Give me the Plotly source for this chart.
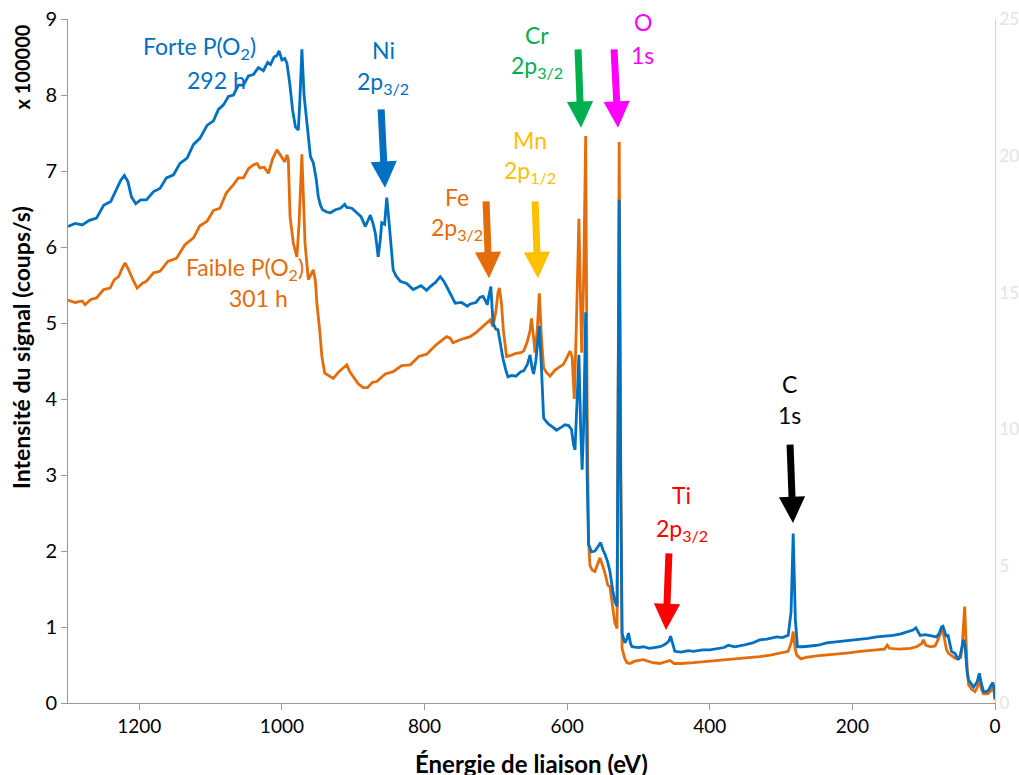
import plotly.graph_objects as go

# ---------------- data ----------------
energy_forte = [1300, 1290, 1280, 1270, 1260, 1250, 1240, 1232, 1226, 1221, 1216, 1211, 1205, 1198, 1190,
                1180, 1171, 1162, 1152, 1143, 1133, 1124, 1115, 1105, 1096, 1089, 1082, 1075, 1068, 1061,
                1054, 1047, 1040, 1033, 1026, 1020, 1016, 1011, 1007, 1004, 1000, 996, 993, 989, 985,
                981, 977, 975, 972, 969, 967, 963, 960, 956, 952, 949, 946, 943, 937, 932,
                925, 918, 912, 909, 902, 895, 889, 883, 879, 876, 872, 869, 866, 865, 862,
                860, 856, 853, 850, 848, 846, 844, 840, 834, 825, 816, 805, 797, 792, 785,
                778, 773, 769, 763, 757, 748, 740, 736, 728, 722, 718, 715, 712, 710, 707,
                704, 700, 697, 693, 690, 686, 683, 678, 672, 665, 661, 656, 652, 649, 647,
                644, 641, 639, 636, 633, 629, 626, 620, 615, 608, 603, 598, 596, 594, 591,
                589, 586, 583.5, 581, 579, 577, 574, 572, 570, 566, 561, 556, 553, 550, 547,
                543, 540, 536, 533, 530, 528.5, 527, 525, 523, 519, 516, 514, 511, 509, 500,
                493, 485, 478, 470, 465, 460, 457, 455, 452, 449, 440, 430, 423, 410, 400,
                390, 380, 374, 365, 353, 340, 330, 320, 306, 298, 290, 286, 283, 280, 277,
                270, 259, 248, 236, 225, 213, 200, 189, 178, 166, 155, 143, 132, 122, 115,
                111, 108, 105, 98, 91, 85, 82, 78, 75, 73, 70, 68, 66, 63, 61,
                56, 53, 51.5, 49, 47, 44, 42, 39, 37, 33, 30, 25, 22, 19, 16,
                12, 9, 5, 3, 1, 0]
signal_forte = [6.27, 6.31, 6.29, 6.35, 6.38, 6.55, 6.60, 6.76, 6.88, 6.94, 6.86, 6.66, 6.57, 6.62, 6.62,
                6.73, 6.77, 6.91, 6.95, 7.10, 7.17, 7.35, 7.43, 7.60, 7.66, 7.81, 7.87, 7.98, 8.00, 8.13,
                8.13, 8.25, 8.27, 8.36, 8.32, 8.43, 8.40, 8.50, 8.52, 8.58, 8.46, 8.48, 8.42, 8.15, 7.80,
                7.58, 7.54, 7.90, 8.60, 8.00, 7.80, 7.40, 7.19, 7.11, 6.90, 6.66, 6.55, 6.49, 6.46, 6.45,
                6.49, 6.51, 6.56, 6.52, 6.51, 6.45, 6.40, 6.27, 6.35, 6.42, 6.30, 6.18, 5.95, 5.87, 6.10,
                6.32, 6.30, 6.65, 6.35, 6.14, 5.90, 5.70, 5.62, 5.55, 5.52, 5.44, 5.49, 5.43, 5.48, 5.53,
                5.61, 5.55, 5.48, 5.36, 5.26, 5.27, 5.22, 5.25, 5.27, 5.34, 5.35, 5.30, 5.24, 5.35, 5.48,
                5.00, 4.92, 4.91, 4.70, 4.53, 4.38, 4.29, 4.31, 4.30, 4.36, 4.37, 4.45, 4.58, 4.40, 4.33,
                4.50, 4.85, 4.96, 4.40, 3.75, 3.70, 3.67, 3.63, 3.59, 3.63, 3.66, 3.65, 3.62, 3.60, 3.40,
                3.33, 4.00, 4.58, 3.60, 3.07, 3.60, 5.14, 3.00, 2.09, 1.99, 2.00, 2.07, 2.11, 2.02, 1.96,
                1.85, 1.73, 1.48, 1.33, 1.27, 3.50, 6.62, 3.00, 0.92, 0.79, 0.85, 0.92, 0.78, 0.74, 0.73,
                0.74, 0.72, 0.73, 0.74, 0.76, 0.79, 0.82, 0.88, 0.78, 0.68, 0.67, 0.69, 0.68, 0.70, 0.70,
                0.72, 0.73, 0.76, 0.74, 0.76, 0.79, 0.83, 0.84, 0.87, 0.86, 0.89, 1.20, 2.23, 1.10, 0.74,
                0.74, 0.75, 0.76, 0.79, 0.80, 0.81, 0.83, 0.84, 0.85, 0.87, 0.88, 0.89, 0.91, 0.94, 0.96,
                0.99, 0.94, 0.89, 0.90, 0.89, 0.88, 0.87, 0.92, 1.00, 1.01, 0.92, 0.87, 0.90, 0.75, 0.68,
                0.65, 0.60, 0.57, 0.62, 0.70, 0.83, 0.75, 0.40, 0.30, 0.24, 0.21, 0.28, 0.39, 0.25, 0.15,
                0.15, 0.17, 0.24, 0.27, 0.18, 0.06]

energy_faible = [1300, 1290, 1280, 1276, 1268, 1260, 1250, 1241, 1235, 1229, 1224, 1220, 1216, 1213, 1208,
                 1203, 1196, 1190, 1180, 1171, 1160, 1148, 1136, 1124, 1115, 1105, 1096, 1087, 1078, 1068,
                 1061, 1054, 1047, 1040, 1035, 1031, 1025, 1019, 1013, 1007, 1003, 999, 996, 993, 991,
                 988.6, 984, 979, 976, 972, 969, 967.6, 963, 960, 956, 953, 951, 947, 944, 940,
                 935, 928, 920, 915, 909, 905, 900, 893, 886, 880, 873, 867, 855, 844, 832,
                 820, 808, 797, 783, 769, 764, 760, 750, 736, 727, 718, 712, 708, 704, 700,
                 697, 695, 692, 689.5, 685, 680, 672, 665, 661, 656, 652, 650, 647, 645, 642,
                 639, 636, 633, 629, 624, 617, 610, 605, 600, 596, 593, 590, 587, 583.5, 581,
                 579.6, 577, 574, 572, 570, 568, 565, 561, 557, 554, 550, 547, 543, 540, 536,
                 533, 530, 528.5, 527, 525, 523, 519, 516, 512, 505, 493, 480, 470, 462, 456,
                 450, 440, 423, 410, 400, 390, 376, 360, 345, 330, 315, 300, 290, 285.5, 283,
                 280, 278, 272, 265, 250, 236, 220, 205, 189, 175, 162, 155, 151, 148, 135,
                 119, 110, 103, 100.5, 97, 90, 84, 80, 76, 74, 71, 68, 65, 60, 56,
                 52, 48, 46, 44.5, 42.5, 41, 39, 37, 33, 28, 25, 22, 19, 16, 10,
                 5, 2.4, 1, 0]
signal_faible = [5.30, 5.27, 5.29, 5.24, 5.31, 5.33, 5.44, 5.46, 5.57, 5.61, 5.72, 5.79, 5.72, 5.65, 5.55,
                 5.46, 5.52, 5.55, 5.66, 5.68, 5.81, 5.85, 6.03, 6.12, 6.28, 6.34, 6.48, 6.51, 6.71, 6.82,
                 6.91, 6.91, 7.03, 7.08, 7.10, 7.04, 7.05, 6.97, 7.16, 7.28, 7.22, 7.17, 7.12, 7.21, 7.15,
                 6.40, 6.05, 5.87, 6.30, 7.22, 6.50, 6.05, 5.57, 5.62, 5.70, 5.55, 5.26, 4.90, 4.56, 4.34,
                 4.31, 4.27, 4.36, 4.40, 4.45, 4.36, 4.30, 4.20, 4.15, 4.15, 4.22, 4.23, 4.33, 4.36, 4.44,
                 4.45, 4.56, 4.59, 4.72, 4.82, 4.80, 4.74, 4.78, 4.82, 4.88, 4.95, 5.00, 5.04, 4.95, 5.15,
                 5.40, 5.46, 5.25, 4.91, 4.56, 4.57, 4.60, 4.61, 4.63, 4.75, 4.90, 5.06, 4.80, 4.61, 4.90,
                 5.39, 4.80, 4.41, 4.35, 4.30, 4.38, 4.42, 4.46, 4.55, 4.63, 4.55, 4.00, 5.00, 6.37, 5.20,
                 4.61, 5.50, 7.46, 4.00, 2.14, 1.81, 1.75, 1.73, 1.82, 1.91, 1.80, 1.71, 1.55, 1.53, 1.25,
                 1.05, 0.98, 4.00, 7.38, 3.50, 0.72, 0.58, 0.53, 0.52, 0.55, 0.57, 0.53, 0.52, 0.54, 0.56,
                 0.52, 0.52, 0.53, 0.54, 0.55, 0.56, 0.57, 0.58, 0.59, 0.61, 0.63, 0.66, 0.68, 0.80, 0.94,
                 0.70, 0.63, 0.58, 0.60, 0.62, 0.63, 0.64, 0.66, 0.68, 0.69, 0.70, 0.71, 0.76, 0.72, 0.71,
                 0.72, 0.74, 0.78, 0.83, 0.76, 0.74, 0.75, 0.83, 0.95, 0.98, 0.85, 0.70, 0.65, 0.62, 0.59,
                 0.58, 0.60, 0.75, 0.96, 1.27, 0.90, 0.45, 0.24, 0.18, 0.15, 0.20, 0.30, 0.18, 0.12, 0.12,
                 0.17, 0.21, 0.12, 0.04]

x_ticks = [1200, 1000, 800, 600, 400, 200, 0]
y_ticks = [0, 1, 2, 3, 4, 5, 6, 7, 8, 9]
y2_ticks = [0, 5, 10, 15, 20, 25]

BLUE = "#0070C0"
ORANGE = "#E46C0A"
FONT = "Lato"
LABEL_SIZE = 23

fig = go.Figure()
fig.add_trace(go.Scatter(x=energy_faible, y=signal_faible, mode="lines",
                         line=dict(color=ORANGE, width=2.8), showlegend=False, hoverinfo="skip"))
fig.add_trace(go.Scatter(x=energy_forte, y=signal_forte, mode="lines",
                         line=dict(color=BLUE, width=2.8), showlegend=False, hoverinfo="skip"))
fig.add_trace(go.Scatter(x=[], y=[], yaxis="y2", showlegend=False, hoverinfo="skip"))

annotations = []

def label(text, x, y, color):
    annotations.append(dict(x=x, y=y, xref="x", yref="y", text=text, showarrow=False,
                            font=dict(family=FONT, size=LABEL_SIZE, color=color),
                            xanchor="center", yanchor="middle"))

def arrow(x, y, ax, ay, color):
    annotations.append(dict(x=x, y=y, ax=ax, ay=ay, xref="x", yref="y", axref="x", ayref="y",
                            text="", showarrow=True, arrowhead=2, arrowsize=0.75,
                            arrowwidth=7, arrowcolor=color, standoff=0))

label("Forte P(O<sub>2</sub>)", 1115, 8.62, BLUE)
label("292 h", 1092, 8.20, BLUE)
label("Faible P(O<sub>2</sub>)", 1052, 5.72, ORANGE)
label("301 h", 1033, 5.33, ORANGE)

label("Ni", 858, 8.59, BLUE)
label("2p<sub>3/2</sub>", 858, 8.17, BLUE)
arrow(855.4, 6.78, 861, 7.83, BLUE)

label("Fe", 754, 6.66, ORANGE)
label("2p<sub>3/2</sub>", 754, 6.25, ORANGE)
arrow(709.6, 5.59, 713.8, 6.62, ORANGE)

MN = "#FFC000"
label("Mn", 652, 7.41, MN)
label("2p<sub>1/2</sub>", 652, 6.99, MN)
arrow(640.9, 5.59, 645.1, 6.62, MN)

CR = "#00B050"
label("Cr", 642, 8.79, CR)
label("2p<sub>3/2</sub>", 642, 8.37, CR)
arrow(580.6, 7.57, 584.8, 8.62, CR)

OX = "#FF00FF"
label("O", 494, 8.96, OX)
label("1s", 494, 8.53, OX)
arrow(528.7, 7.57, 534.3, 8.62, OX)

TI = "#FF0000"
label("Ti", 439, 2.74, TI)
label("2p<sub>3/2</sub>", 439, 2.28, TI)
arrow(461.4, 0.96, 457.2, 1.99, TI)

label("C", 287.5, 4.20, "#000000")
label("1s", 287.5, 3.79, "#000000")
arrow(283.3, 2.37, 287.5, 3.42, "#000000")

# axis titles
annotations.append(dict(x=-0.05, y=0.52, xref="paper", yref="paper", text="<b>Intensité du signal (coups/s)</b>",
                        textangle=-90, showarrow=False, font=dict(family=FONT, size=23, color="#000"),
                        xanchor="center", yanchor="middle"))
annotations.append(dict(x=-0.05, y=0.93, xref="paper", yref="paper", text="<b>x 100000</b>",
                        textangle=-90, showarrow=False, font=dict(family=FONT, size=20, color="#000"),
                        xanchor="center", yanchor="middle"))
annotations.append(dict(x=0.5, y=-0.088, xref="paper", yref="paper", text="<b>Énergie de liaison (eV)</b>",
                        showarrow=False, font=dict(family=FONT, size=24, color="#000"),
                        xanchor="center", yanchor="middle"))

fig.update_layout(
    width=1019, height=775,
    margin=dict(l=68, r=24, t=19, b=72),
    paper_bgcolor="white", plot_bgcolor="white",
    font=dict(family=FONT, size=19, color="#000"),
    xaxis=dict(range=[1300, 0], tickvals=x_ticks, ticktext=[str(v) for v in x_ticks],
               showgrid=False, zeroline=False, showline=True, linecolor="#9a9a9a", linewidth=1,
               ticks="outside", ticklen=6, tickcolor="#9a9a9a", tickfont=dict(size=19), automargin=False),
    yaxis=dict(range=[0, 9], tickvals=y_ticks, showgrid=False, zeroline=False, showline=True,
               linecolor="#9a9a9a", linewidth=1, ticks="outside", ticklen=6, tickcolor="#9a9a9a",
               tickfont=dict(size=20), automargin=False),
    yaxis2=dict(range=[0, 25], tickvals=y2_ticks, overlaying="y", side="right", showgrid=False,
                zeroline=False, showline=True, linecolor="#d4d4d4", linewidth=1, ticks="",
                tickfont=dict(size=17, color="#e3e3e3"), automargin=False, ticklabeloverflow="allow"),
    annotations=annotations,
)

fig.write_html("out.html", config={"displayModeBar": False},
               post_script="document.body.style.margin='0';")
